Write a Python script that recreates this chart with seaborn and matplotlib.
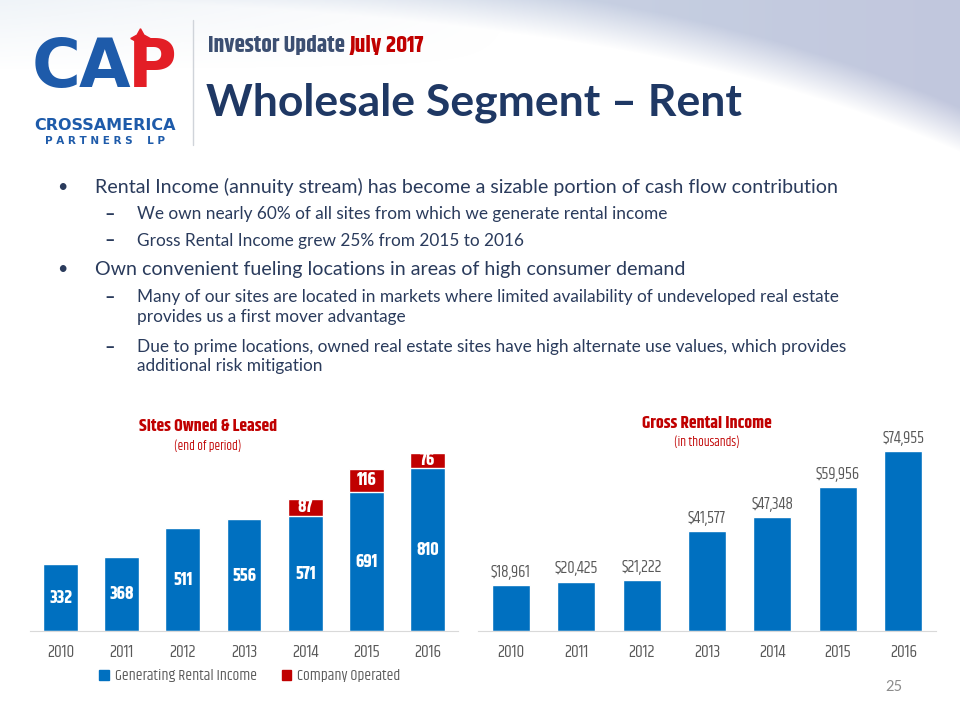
import numpy as np
import pandas as pd
import seaborn as sns
import matplotlib.pyplot as plt
from matplotlib.patches import Patch
from matplotlib import font_manager

# data
years = ['2010', '2011', '2012', '2013', '2014', '2015', '2016']
rental_sites = [332, 368, 511, 556, 571, 691, 810]
company_sites = [0, 0, 0, 0, 87, 116, 76]
gross_income = [18961, 20425, 21222, 41577, 47348, 59956, 74955]

bullets = [
    (0, 'Rental Income (annuity stream) has become a sizable portion of cash flow contribution'),
    (1, 'We own nearly 60% of all sites from which we generate rental income'),
    (1, 'Gross Rental Income grew 25% from 2015 to 2016'),
    (0, 'Own convenient fueling locations in areas of high consumer demand'),
    (1, 'Many of our sites are located in markets where limited availability of undeveloped real estate\nprovides us a first mover advantage'),
    (1, 'Due to prime locations, owned real estate sites have high alternate use values, which provides\nadditional risk mitigation'),
]

BLUE = '#0070C0'
RED = '#C00000'
GRAY = '#595959'
NAVY = '#1F3864'
BODY = '#2A3B5C'
BODYF = ['Lato', 'DejaVu Sans']

# narrow display face (slide uses Agency FB); take the first one that exists
names = {f.name for f in font_manager.fontManager.ttflist}
COND, STRETCH, K = ['DejaVu Sans'], 'condensed', 0.85
for cand, k in [('Khand', 1.0), ('Saira Condensed', 0.9), ('Antonio', 0.8)]:
    if cand in names:
        COND, STRETCH, K = [cand, 'DejaVu Sans'], 'normal', k
        break

sns.set_style('white')
plt.rcParams['font.family'] = BODYF

W, H = 960, 720
fig = plt.figure(figsize=(9.6, 7.2), dpi=100)


def fx(x):
    return x / W


def fy(y):
    return 1 - y / H


def ctext(x, y, s, size, **kw):
    return fig.text(fx(x), fy(y), s, fontsize=size * K, family=COND,
                    fontstretch=STRETCH, **kw)


# background swoosh
bg = fig.add_axes([0, 0, 1, 1], zorder=-5)
xx, yy = np.meshgrid(np.arange(W), np.arange(H))
curve = 12 + 140 * (xx / W) ** 3
a = np.clip((curve - yy) / 45.0, 0, 1) * 0.55
haze = np.clip(1 - yy / 70.0, 0, 1) * np.clip(1 - xx / 520.0, 0, 1) * 0.18
img = np.ones((H, W, 4))
t = (xx / W)[..., None]
col = (1 - t) * np.array([0.66, 0.76, 0.85]) + t * np.array([0.56, 0.60, 0.76])
img[..., :3] = col
img[..., 3] = np.maximum(a, haze)
bg.imshow(img, extent=(0, W, H, 0), aspect='auto')
bg.set_xlim(0, W)
bg.set_ylim(H, 0)
bg.axis('off')
bg.plot([193, 193], [20, 145], color='#D0D4DA', lw=1)

# logo
for ch, x, c in [('C', 56, '#1E5BAA'), ('A', 104, '#1E5BAA'), ('P', 152, '#E31E26')]:
    fig.text(fx(x), fy(68), ch, color=c, fontsize=48, fontweight='heavy',
             family=['DejaVu Sans'], ha='center', va='center')
top = fig.add_axes([0, 0, 1, 1], zorder=5)
top.set_xlim(0, W)
top.set_ylim(H, 0)
top.axis('off')
top.plot([140], [38], marker=(4, 1, 0), markersize=14, color='#E31E26')
fig.text(fx(105), fy(125), 'CROSSAMERICA', color='#1E5BAA', fontsize=11.5,
         fontweight='heavy', family=['DejaVu Sans'], ha='center', va='center')
fig.text(fx(105), fy(141), 'P A R T N E R S    L P', color='#1E5BAA', fontsize=7.5,
         fontweight='heavy', family=['DejaVu Sans'], ha='center', va='center')

# header
hdr = ctext(208, 45, 'Investor Update ', 16.8, color='#3C4F72', fontweight='bold',
            ha='left', va='center')
fig.canvas.draw()
bb = hdr.get_window_extent()
ctext(bb.x1, 45, 'July 2017', 16.8, color=RED, fontweight='bold', ha='left', va='center')
fig.text(fx(206), fy(103), 'Wholesale Segment \u2013 Rent', color=NAVY, fontsize=32,
         fontweight='bold', family=BODYF, ha='left', va='center')

# bullet text
ys = [187, 214, 241, 269, 307, 356.5]
for (lvl, txt), y in zip(bullets, ys):
    if lvl == 0:
        fig.text(fx(62), fy(y), '\u2022', color=BODY, fontsize=13, ha='center', va='center')
        fig.text(fx(95), fy(y), txt, color=BODY, fontsize=14.1, ha='left', va='center')
    else:
        dy = 9 if '\n' in txt else 0
        fig.text(fx(110), fy(y - dy), '\u2013', color=BODY, fontsize=13, fontweight='bold',
                 ha='center', va='center')
        fig.text(fx(137), fy(y), txt, color=BODY, fontsize=12.4, ha='left', va='center',
                 linespacing=1.3)

# left chart: sites owned & leased
df = pd.DataFrame({'year': years, 'rental': rental_sites, 'company': company_sites})
df['total'] = df['rental'] + df['company']

ax1 = fig.add_axes([fx(30), fy(631), 428 / W, 181 / H])
sns.barplot(data=df, x='year', y='total', color=RED, width=0.57, saturation=1, ax=ax1)
sns.barplot(data=df, x='year', y='rental', color=BLUE, width=0.57, saturation=1, ax=ax1)
ax1.set_ylim(0, 900)
ax1.set_xlim(-0.5, 6.5)
lab_kw = dict(color='white', fontsize=13 * K, fontweight='bold', family=COND,
              fontstretch=STRETCH, ha='center', va='center')
for i, r in df.iterrows():
    ax1.text(i, r['rental'] / 2, str(r['rental']), **lab_kw)
    if r['company'] > 0:
        ax1.text(i, r['rental'] + r['company'] / 2 + 4, str(r['company']), **lab_kw)

# right chart: gross rental income
df2 = pd.DataFrame({'year': years, 'income': gross_income})
ax2 = fig.add_axes([fx(478), fy(631), 458 / W, 182.4 / H])
sns.barplot(data=df2, x='year', y='income', color=BLUE, width=0.58, saturation=1, ax=ax2)
ax2.set_ylim(0, 76000)
ax2.set_xlim(-0.5, 6.5)
ax2.bar_label(ax2.containers[0], labels=[f'${v:,}' for v in gross_income], padding=4,
              color=GRAY, fontsize=12 * K, family=COND, fontstretch=STRETCH)

for ax in (ax1, ax2):
    sns.despine(ax=ax, left=True)
    ax.spines['bottom'].set_color('#D9D9D9')
    ax.set_xlabel('')
    ax.set_ylabel('')
    ax.set_yticks([])
    ax.tick_params(axis='x', length=0, pad=10, labelcolor=GRAY, labelsize=12.5 * K)
    for lab in ax.get_xticklabels():
        lab.set_family(COND)
        lab.set_stretch(STRETCH)
    ax.patch.set_alpha(0)

ax1.legend(handles=[Patch(color=BLUE, label='Generating Rental Income'),
                    Patch(color=RED, label='Company Operated')],
           loc='center', bbox_to_anchor=(fx(250), fy(676)), bbox_transform=fig.transFigure,
           ncol=2, frameon=False, handlelength=0.6, handleheight=0.6, handletextpad=0.4,
           columnspacing=1.6, prop={'family': COND, 'size': 11.2 * K, 'stretch': STRETCH},
           labelcolor=GRAY)

# chart titles
ctext(208, 426, 'Sites Owned & Leased', 12.6, color=RED, fontweight='bold',
      ha='center', va='center')
ctext(208, 446, '(end of period)', 9.3, color=RED, ha='center', va='center')
ctext(707, 423, 'Gross Rental Income', 12.6, color=RED, fontweight='bold',
      ha='center', va='center')
ctext(707, 442, '(in thousands)', 9.3, color=RED, ha='center', va='center')

fig.text(fx(894), fy(687), '25', color='#8C8C8C', fontsize=10.5, ha='center', va='center')

fig.savefig('out.png', dpi=100)
